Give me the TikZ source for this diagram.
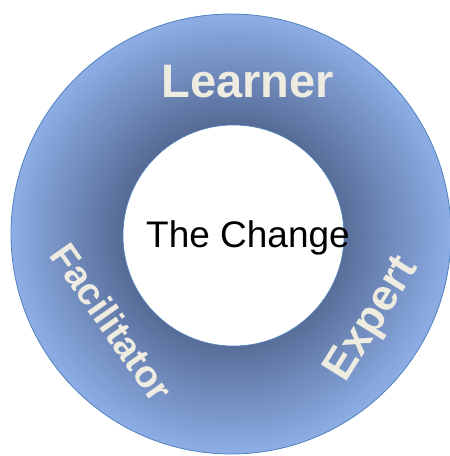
\documentclass[tikz,border=0pt]{standalone}
\usepackage{fontspec}
\setmainfont{Liberation Sans}
\usetikzlibrary{calc,positioning,math}
\definecolor{ringlight}{RGB}{141,173,229}
\definecolor{ringdark}{RGB}{86,107,150}
\definecolor{ringedge}{RGB}{79,129,189}
\definecolor{rolecream}{RGB}{238,236,225}
\tikzset{
role/.style={text=rolecream,font=\bfseries\fontsize{40}{40}\selectfont,inner sep=0pt},
}

\begin{document}
\begin{tikzpicture}[x=1pt,y=1pt]
			\useasboundingbox (0,0) rectangle (450,456);
			\tikzmath{\R = 220; \r = 110.5;} %ring radii
			
			\coordinate (outer) at (231,222);
			\coordinate (inner) at (233.5,220.5);
			
			%ring shading, light outside to dark inside
			\foreach \k [evaluate=\k as \rad using {\R-2*\k}, evaluate=\k as \mix using {int(100*\k/55)}] in {0,...,55}
				\fill[ringdark!\mix!ringlight] (outer) circle (\rad);
			\draw[ringedge,line width=0.8pt] (outer) circle (\R);
			\draw[ringedge,line width=0.6pt,fill=white] (inner) circle (\r);
			
			\node[anchor=base,inner sep=0pt,font=\fontsize{37}{37}\selectfont] (change) at (248,208) {The Change};
			
			%roles round the ring
			\node[role,anchor=base,font=\bfseries\fontsize{47}{47}\selectfont] (learner) at (247.5,358) {Learner};
			\node[role,rotate=-55,font=\bfseries\fontsize{38}{38}\selectfont] (facilitator) at (112,134) {Facilitator};
			\node[role,rotate=58,font=\bfseries\fontsize{44}{44}\selectfont] (expert) at (373,136) {Expert};
			
\end{tikzpicture}
\end{document}
